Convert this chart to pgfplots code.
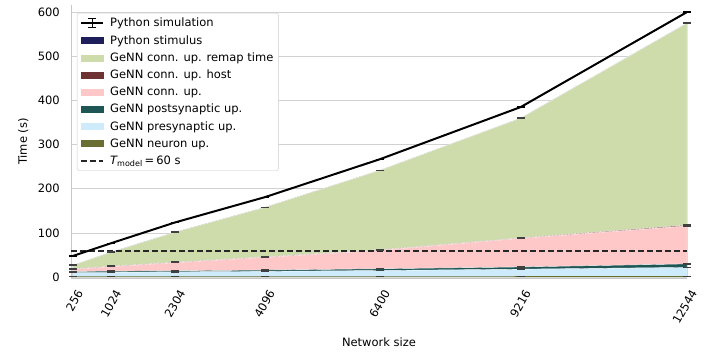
\documentclass[border=0pt]{standalone}
\usepackage{fontspec}
\setmainfont{DejaVu Sans}
\usepackage{pgfplots}
\usepackage{pgfplotstable}
\pgfplotsset{compat=1.18}

\definecolor{cNavy}{RGB}{30,30,90}
\definecolor{cRemap}{RGB}{205,220,170}
\definecolor{cHost}{RGB}{110,50,50}
\definecolor{cConn}{RGB}{255,200,200}
\definecolor{cPost}{RGB}{30,85,85}
\definecolor{cPre}{RGB}{205,235,250}
\definecolor{cNeuron}{RGB}{105,110,50}

% top of each stacked layer (s)
\pgfplotstableread{
n     neuron pre  post conn host remap stim  sim
256   1.5    11   13   18   19   27    27    48
1024  1.5    11   13.5 24   25   57    57    77
2304  1.5    12   14.5 33   34   102   102   124
4096  1.5    13   16   45   46   158   158   181
6400  1.5    15   19   61   62   242   242   267
9216  2      18   23   88   89   360   360   385
12544 2      22   30   116  118  575   575   600
}\timing

\begin{document}
\begin{tikzpicture}
\begin{axis}[
  scale only axis,
  width=616pt, height=273pt,
  xmin=216, xmax=12544,
  ymin=-2, ymax=616,
  axis x line*=bottom, axis y line*=left,
  axis line style={-, draw=black!22, line width=0.8pt},
  xtick={256,1024,2304,4096,6400,9216,12544},
  ytick={0,100,200,300,400,500,600},
  major tick length=0pt,
  ymajorgrids, grid style={draw=black!18, line width=0.8pt},
  font=\fontsize{11.5}{13}\selectfont,
  /pgf/number format/assume math mode=true,
  /pgf/number format/set thousands separator={},
  scaled ticks=false,
  xticklabel style={xshift=7pt, yshift=-13pt, rotate=60, anchor=east, inner sep=0pt},
  yticklabel style={xshift=-11pt, inner sep=0pt},
  xlabel={Network size}, ylabel={Time (s)},
  xlabel style={yshift=-9pt},
  ylabel style={yshift=6pt},
  legend cell align=left,
  legend style={at={(0,1)}, anchor=north west, xshift=6pt, yshift=-8pt,
    draw=black!20, rounded corners=2pt, fill=white,
    font=\fontsize{11.5}{13}\selectfont, row sep=3pt,
    inner xsep=3pt, inner ysep=3pt,
    /tikz/every odd column/.append style={column sep=4pt}},
]
\addlegendimage{legend image code/.code={
  \draw[sharp corners, black, line width=1.8pt] (0pt,0pt)--(22pt,0pt);
  \draw[sharp corners, black, line width=1.1pt] (11pt,-4.5pt)--(11pt,4.5pt);
  \draw[sharp corners, black, line width=1.1pt] (7pt,-4.5pt)--(15pt,-4.5pt);
  \draw[sharp corners, black, line width=1.1pt] (7pt,4.5pt)--(15pt,4.5pt);}}
\addlegendentry{Python simulation}
\addlegendimage{legend image code/.code={\fill[sharp corners, cNavy] (0pt,-3pt) rectangle (22pt,3pt);}}
\addlegendentry{Python stimulus}
\addlegendimage{legend image code/.code={\fill[sharp corners, cRemap] (0pt,-3pt) rectangle (22pt,3pt);}}
\addlegendentry{GeNN conn. up. remap time}
\addlegendimage{legend image code/.code={\fill[sharp corners, cHost] (0pt,-3pt) rectangle (22pt,3pt);}}
\addlegendentry{GeNN conn. up. host}
\addlegendimage{legend image code/.code={\fill[sharp corners, cConn] (0pt,-3pt) rectangle (22pt,3pt);}}
\addlegendentry{GeNN conn. up.}
\addlegendimage{legend image code/.code={\fill[sharp corners, cPost] (0pt,-3pt) rectangle (22pt,3pt);}}
\addlegendentry{GeNN postsynaptic up.}
\addlegendimage{legend image code/.code={\fill[sharp corners, cPre] (0pt,-3pt) rectangle (22pt,3pt);}}
\addlegendentry{GeNN presynaptic up.}
\addlegendimage{legend image code/.code={\fill[sharp corners, cNeuron] (0pt,-3pt) rectangle (22pt,3pt);}}
\addlegendentry{GeNN neuron up.}
\addlegendimage{legend image code/.code={\draw[sharp corners, black!85, line width=2pt, dash pattern=on 6pt off 3pt] (0pt,0pt)--(22pt,0pt);}}
\addlegendentry{{\itshape T}\textsubscript{model}\,=\,60 s}

% stacked areas, drawn from the top layer down
\addplot[forget plot, fill=cNavy, draw=none] table[x=n, y=stim] {\timing} \closedcycle;
\addplot[forget plot, fill=cRemap, draw=white, line width=0.4pt] table[x=n, y=remap] {\timing} \closedcycle;
\addplot[forget plot, fill=cHost, draw=white, line width=0.4pt] table[x=n, y=host] {\timing} \closedcycle;
\addplot[forget plot, fill=cConn, draw=white, line width=0.4pt] table[x=n, y=conn] {\timing} \closedcycle;
\addplot[forget plot, fill=cPost, draw=white, line width=0.4pt] table[x=n, y=post] {\timing} \closedcycle;
\addplot[forget plot, fill=cPre, draw=white, line width=0.4pt] table[x=n, y=pre] {\timing} \closedcycle;
\addplot[forget plot, fill=cNeuron, draw=none] table[x=n, y=neuron] {\timing} \closedcycle;

% error caps on the layer tops
\foreach \col in {remap,host,conn,post,pre,neuron}{
  \addplot[forget plot, only marks, mark=-, mark size=4pt,
    mark options={draw=black!75, line width=1.4pt}] table[x=n, y=\col] {\timing};
}

% threshold and total
\addplot[forget plot, black!85, line width=2pt, dash pattern=on 6pt off 3pt] coordinates {(216,60) (12544,60)};
\addplot[forget plot, black, line width=2pt, mark=-, mark size=4pt,
  mark options={line width=1.2pt}] table[x=n, y=sim] {\timing};
\end{axis}
\pgfresetboundingbox
\path ([shift={(-71pt,-82pt)}]current axis.south west) rectangle ++(709pt,360pt);
\end{tikzpicture}
\end{document}
